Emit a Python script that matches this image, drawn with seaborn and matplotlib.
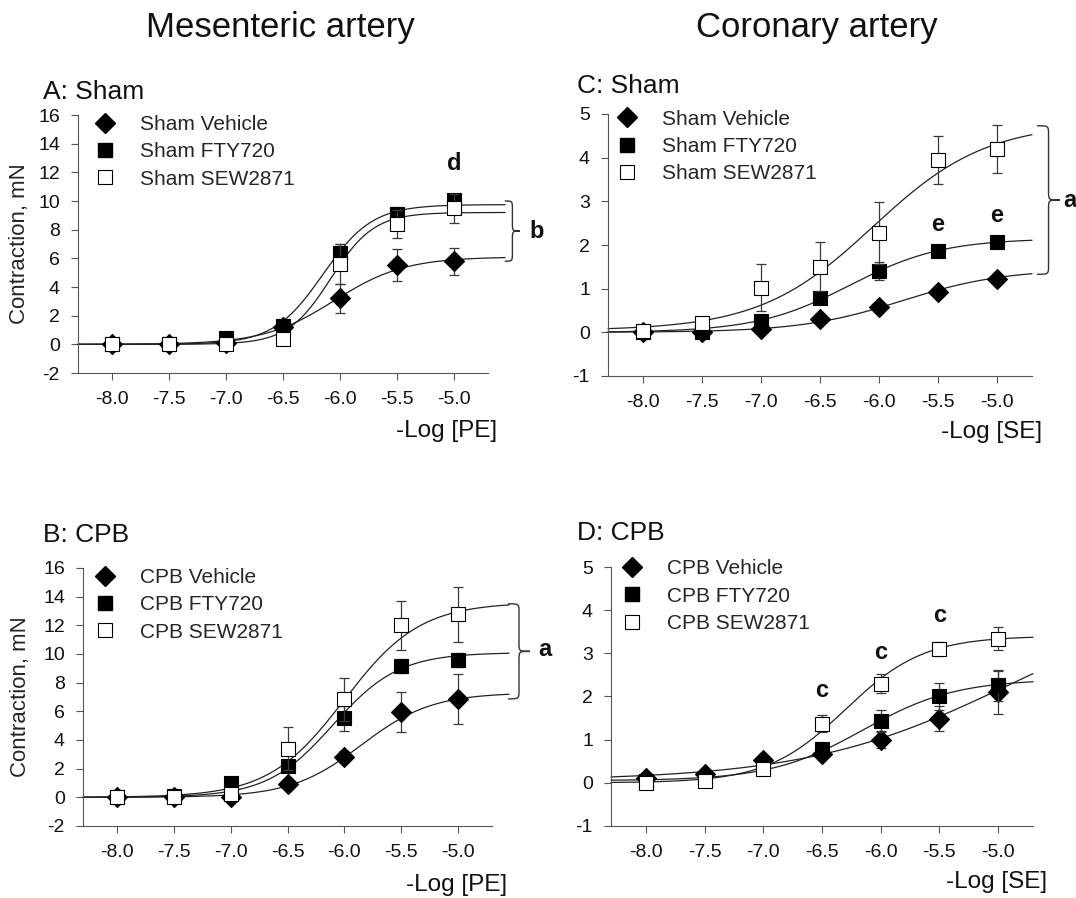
import numpy as np
import matplotlib
matplotlib.use("Agg")
import matplotlib.pyplot as plt
import matplotlib.transforms as mtransforms
from matplotlib.path import Path
from matplotlib.patches import PathPatch
from matplotlib.lines import Line2D
import seaborn as sns

sns.set_style("ticks")
plt.rcParams['font.family'] = ['Liberation Sans', 'DejaVu Sans']
plt.rcParams['axes.unicode_minus'] = False

# -log concentration steps
log_conc = [-8.0, -7.5, -7.0, -6.5, -6.0, -5.5, -5.0]

# A: mesenteric artery, sham
a_vehicle = [0.0, 0.0, 0.1, 1.2, 3.2, 5.55, 5.8]
a_vehicle_sem = [0.05, 0.05, 0.1, 0.2, 1.0, 1.1, 0.95]
a_fty = [0.0, 0.0, 0.45, 1.3, 6.4, 9.1, 10.1]
a_fty_sem = [0.05, 0.05, 0.2, 0.3, 0.6, 0.5, 0.3]
a_sew = [0.0, 0.0, 0.05, 0.4, 5.6, 8.4, 9.5]
a_sew_sem = [0.05, 0.1, 0.1, 0.2, 1.4, 1.0, 1.0]

# B: mesenteric artery, CPB
b_vehicle = [0.0, 0.0, 0.05, 0.95, 2.84, 5.95, 6.88]
b_vehicle_sem = [0.05, 0.05, 0.3, 0.2, 0.4, 1.4, 1.75]
b_fty = [0.0, 0.1, 1.0, 2.2, 5.5, 9.15, 9.6]
b_fty_sem = [0.05, 0.05, 0.2, 0.3, 0.9, 0.5, 0.5]
b_sew = [0.0, 0.05, 0.25, 3.4, 6.86, 12.0, 12.77]
b_sew_sem = [0.05, 0.05, 0.3, 1.5, 1.5, 1.7, 1.9]

# C: coronary artery, sham
c_vehicle = [0.0, 0.0, 0.07, 0.3, 0.57, 0.92, 1.21]
c_vehicle_sem = [0.08, 0.05, 0.05, 0.05, 0.05, 0.06, 0.07]
c_fty = [0.0, 0.0, 0.27, 0.79, 1.4, 1.87, 2.08]
c_fty_sem = [0.05, 0.05, 0.1, 0.1, 0.2, 0.1, 0.1]
c_sew = [0.02, 0.22, 1.02, 1.5, 2.28, 3.95, 4.2]
c_sew_sem = [0.1, 0.1, 0.54, 0.56, 0.71, 0.55, 0.54]

# D: coronary artery, CPB
d_vehicle = [0.12, 0.2, 0.52, 0.66, 1.0, 1.49, 2.1]
d_vehicle_sem = [0.03, 0.03, 0.05, 0.05, 0.2, 0.3, 0.5]
d_fty = [0.05, 0.1, 0.4, 0.78, 1.43, 2.0, 2.26]
d_fty_sem = [0.03, 0.03, 0.05, 0.1, 0.25, 0.31, 0.36]
d_sew = [0.0, 0.05, 0.31, 1.37, 2.3, 3.1, 3.34]
d_sew_sem = [0.03, 0.03, 0.05, 0.2, 0.22, 0.17, 0.27]

# fitted sigmoid parameters (bottom, top, logEC50, hill)
a_fits = [(0, 6.1, -6.05, 1.4), (0, 9.75, -6.15, 2.0), (0, 9.2, -6.08, 2.3)]
b_fits = [(0, 7.3, -5.85, 1.4), (0, 10.1, -6.1, 1.5), (0, 13.6, -6.0, 1.3)]
c_fits = [(0, 1.45, -5.8, 1.0), (0, 2.15, -6.25, 1.1), (0.04, 4.8, -6.05, 0.9)]
d_fits = [(0.05, 4.5, -4.9, 0.5), (0.05, 2.4, -6.15, 1.1), (0, 3.4, -6.3, 1.3)]

# significance letters (text, x, y)
a_letters = [('d', -5.0, 12.6)]
b_letters = []
c_letters = [('e', -5.5, 2.46), ('e', -5.0, 2.68)]
d_letters = [('c', -6.5, 2.13), ('c', -6.0, 3.01), ('c', -5.5, 3.87)]

W, H = 1076, 898
fig = plt.figure(figsize=(W / 100, H / 100), dpi=100)


def px(x0, y_top, w, h):
    return [x0 / W, 1 - (y_top + h) / H, w / W, h / H]


def brace(ax, x0, xt, yt, yb, r):
    xv = x0 + (xt - x0) * 0.5
    ym = (yt + yb) / 2
    verts = [(x0, yt), (xv, yt), (xv, yt), (xv, yt - r),
             (xv, ym + r),
             (xv, ym), (xv, ym), (xt, ym),
             (xv, ym), (xv, ym), (xv, ym - r),
             (xv, yb + r),
             (xv, yb), (xv, yb), (x0, yb)]
    codes = [Path.MOVETO, Path.CURVE4, Path.CURVE4, Path.CURVE4,
             Path.LINETO,
             Path.CURVE4, Path.CURVE4, Path.CURVE4,
             Path.CURVE4, Path.CURVE4, Path.CURVE4,
             Path.LINETO,
             Path.CURVE4, Path.CURVE4, Path.CURVE4]
    trans = mtransforms.blended_transform_factory(ax.transAxes, ax.transData)
    ax.add_patch(PathPatch(Path(verts, codes), fill=False, lw=1.0,
                           edgecolor='#333333', transform=trans, clip_on=False))


panels = [
    dict(rect=px(78, 115, 410, 258), ylim=(-2, 16), yticks=range(-2, 17, 2),
         series=[(a_vehicle, a_vehicle_sem), (a_fty, a_fty_sem), (a_sew, a_sew_sem)],
         fits=a_fits, xend=-4.55, letters=a_letters, group='Sham', ylabel=True,
         leg=(0.040, 1.0), brace=(1.041, 1.078, 10.0, 5.8, 0.6), bl=('b', 1.102, 7.9),
         xlab=('-Log [PE]', 497, 431), ylab_x=-0.1415),
    dict(rect=px(83, 568, 409, 258), ylim=(-2, 16), yticks=range(-2, 17, 2),
         series=[(b_vehicle, b_vehicle_sem), (b_fty, b_fty_sem), (b_sew, b_sew_sem)],
         fits=b_fits, xend=-4.55, letters=b_letters, group='CPB', ylabel=True,
         leg=(0.028, 1.0), brace=(1.039, 1.093, 13.5, 6.87, 0.6), bl=('a', 1.112, 10.3),
         xlab=('-Log [PE]', 507, 885), ylab_x=-0.154),
    dict(rect=px(608, 114, 424, 262), ylim=(-1, 5), yticks=range(-1, 6),
         series=[(c_vehicle, c_vehicle_sem), (c_fty, c_fty_sem), (c_sew, c_sew_sem)],
         fits=c_fits, xend=-4.7, letters=c_letters, group='Sham', ylabel=False,
         leg=(0.020, 1.017), brace=(1.012, 1.066, 4.73, 1.33, 0.2), bl=('a', 1.073, 3.02),
         xlab=('-Log [SE]', 1042, 432), ylab_x=None),
    dict(rect=px(611, 567, 422, 259), ylim=(-1, 5), yticks=range(-1, 6),
         series=[(d_vehicle, d_vehicle_sem), (d_fty, d_fty_sem), (d_sew, d_sew_sem)],
         fits=d_fits, xend=-4.7, letters=d_letters, group='CPB', ylabel=False,
         leg=(0.025, 1.03), brace=None, bl=None,
         xlab=('-Log [SE]', 1047, 882), ylab_x=None),
]

styles = [dict(marker='D', s=104, color='black', edgecolor='black'),
          dict(marker='s', s=112, color='black', edgecolor='black'),
          dict(marker='s', s=112, color='white', edgecolor='black')]
names = ['Vehicle', 'FTY720', 'SEW2871']

for p in panels:
    ax = fig.add_axes(p['rect'])
    z = 3
    for (vals, sem), fit, st in zip(p['series'], p['fits'], styles):
        bottom, top, ec50, hill = fit
        xf = np.linspace(-8.3, p['xend'], 200)
        yf = bottom + (top - bottom) / (1 + 10 ** ((ec50 - xf) * hill))
        sns.lineplot(x=xf, y=yf, color='#222222', lw=0.9, ax=ax,
                     estimator=None, clip_on=False, zorder=2)
        ax.errorbar(log_conc, vals, yerr=sem, fmt='none', ecolor='#3a3a3a',
                    elinewidth=0.9, capsize=3.5, capthick=0.9, zorder=z)
        sns.scatterplot(x=log_conc, y=vals, ax=ax, linewidth=0.8,
                        zorder=z + 1, clip_on=False, **st)
        z += 2

    ax.set_xlim(-8.3, -4.7)
    ax.set_ylim(*p['ylim'])
    ax.set_xticks(log_conc)
    ax.set_xticklabels([f'{v:.1f}' for v in log_conc])
    ax.set_yticks(list(p['yticks']))
    sns.despine(ax=ax)
    for sp in ['left', 'bottom']:
        ax.spines[sp].set_color('#555555')
        ax.spines[sp].set_linewidth(0.8)
    ax.tick_params(axis='both', labelsize=14, length=5, width=0.8,
                   color='#555555', pad=8, labelcolor='#111111')
    ax.set_xlabel('')
    ax.set_ylabel('')
    if p['ylabel']:
        ax.set_ylabel('Contraction, mN', fontsize=16, va='center')
        ax.yaxis.set_label_coords(p['ylab_x'], 0.5)

    for txt, lx, ly in p['letters']:
        ax.text(lx, ly, txt, ha='center', va='center', fontsize=17,
                fontweight='bold', color='#111111')
    if p['brace'] is not None:
        x0, xt, yt, yb, r = p['brace']
        brace(ax, x0, xt, yt, yb, r)
        txt, lx, ly = p['bl']
        ax.text(lx, ly, txt, ha='left', va='center', fontsize=17, fontweight='bold',
                color='#111111',
                transform=mtransforms.blended_transform_factory(ax.transAxes, ax.transData))

    handles = [Line2D([], [], marker='D', ls='none', color='black', ms=10.2),
               Line2D([], [], marker='s', ls='none', color='black', ms=10.6),
               Line2D([], [], marker='s', ls='none', mfc='white', mec='black',
                      ms=10.6, mew=0.8)]
    ax.legend(handles, [f"{p['group']} {n}" for n in names], loc='upper left',
              bbox_to_anchor=p['leg'], frameon=False, fontsize=15,
              handlelength=1.0, handletextpad=1.17, labelspacing=0.4,
              borderaxespad=0, borderpad=0)

    lab, lx, ly = p['xlab']
    fig.text(lx / W, 1 - ly / H, lab, ha='right', va='center', fontsize=17.5,
             color='#111111')

fig.text(280 / W, 1 - 37 / H, 'Mesenteric artery', ha='center', va='baseline',
         fontsize=25, color='#111111')
fig.text(817 / W, 1 - 37 / H, 'Coronary artery', ha='center', va='baseline',
         fontsize=25, color='#111111')
fig.text(43 / W, 1 - 99 / H, 'A: Sham', fontsize=19, va='baseline', color='#111111')
fig.text(577 / W, 1 - 93 / H, 'C: Sham', fontsize=19, va='baseline', color='#111111')
fig.text(43 / W, 1 - 542 / H, 'B: CPB', fontsize=19, va='baseline', color='#111111')
fig.text(577 / W, 1 - 540 / H, 'D: CPB', fontsize=19, va='baseline', color='#111111')

fig.savefig('out.png', dpi=100, facecolor='white')
